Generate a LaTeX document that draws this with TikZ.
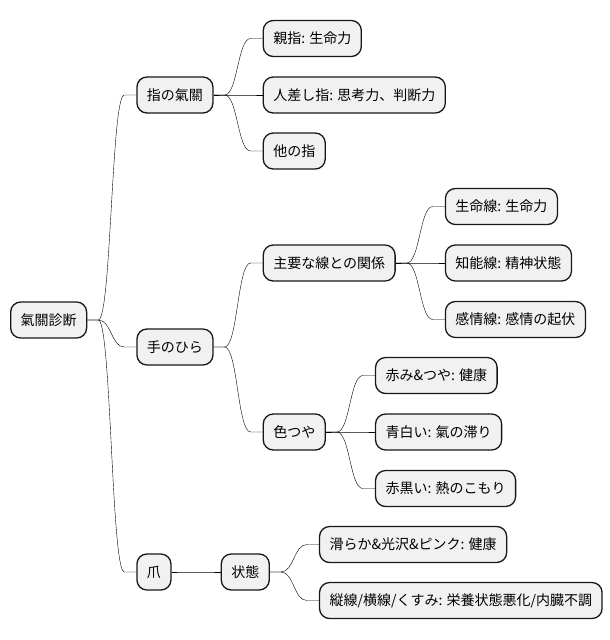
\documentclass[tikz,border=0pt]{standalone}
\usepackage{fontspec}
\setmainfont{Noto Sans CJK JP}
\usepackage{xcolor}
\usetikzlibrary{positioning}
\definecolor{boxfill}{HTML}{F1F1F1}
\definecolor{boxline}{HTML}{181818}

\begin{document}
\begin{tikzpicture}[
    x=1pt, y=1pt,
    node distance=49pt,
    every node/.style={draw=boxline, fill=boxfill, line width=1.3pt, rounded corners=10pt,
        minimum height=36pt, inner xsep=10pt, font=\fontsize{14pt}{16pt}\selectfont},
    branch/.style={draw=boxline, line width=1pt,
        to path={-- ++(11pt,0) .. controls +(13pt,0) and +(-13pt,0) .. ([xshift=-12pt]\tikztotarget) -- (\tikztotarget)}}
]
\useasboundingbox (0,0) rectangle (610,-640);

\node (root) [anchor=west] at (10,-320) {氣關診断};

\node (fingers) [right=of root, yshift=225pt] {指の氣關};
\node (thumb) [right=of fingers, yshift=56.5pt] {親指: 生命力};
\node (index) [right=of fingers] {人差し指: 思考力、判断力};
\node (others) [right=of fingers, yshift=-56pt] {他の指};

\node (palm) [right=of root, yshift=-27pt] {手のひら};
\node (lines) [right=of palm, yshift=84pt] {主要な線との関係};
\node (lifeline) [right=of lines, yshift=56.5pt] {生命線: 生命力};
\node (headline) [right=of lines] {知能線: 精神状態};
\node (heartline) [right=of lines, yshift=-56.5pt] {感情線: 感情の起伏};
\node (colour) [right=of palm, yshift=-85pt] {色つや};
\node (ruddy) [right=of colour, yshift=56.5pt] {赤み\&つや: 健康};
\node (pale) [right=of colour] {青白い: 氣の滞り};
\node (dark) [right=of colour, yshift=-56.5pt] {赤黒い: 熱のこもり};

\node (nail) [right=of root, yshift=-252pt] {爪};
\node (state) [right=of nail] {状態};
\node (smooth) [right=of state, yshift=27.5pt] {滑らか\&光沢\&ピンク: 健康};
\node (ridged) [right=of state, yshift=-28.5pt] {縦線/横線/くすみ: 栄養状態悪化/内臓不調};

\draw (root.east) to[branch] (fingers.west);
\draw (root.east) to[branch] (palm.west);
\draw (root.east) to[branch] (nail.west);
\draw (fingers.east) to[branch] (thumb.west);
\draw (fingers.east) to[branch] (index.west);
\draw (fingers.east) to[branch] (others.west);
\draw (palm.east) to[branch] (lines.west);
\draw (palm.east) to[branch] (colour.west);
\draw (lines.east) to[branch] (lifeline.west);
\draw (lines.east) to[branch] (headline.west);
\draw (lines.east) to[branch] (heartline.west);
\draw (colour.east) to[branch] (ruddy.west);
\draw (colour.east) to[branch] (pale.west);
\draw (colour.east) to[branch] (dark.west);
\draw (nail.east) to[branch] (state.west);
\draw (state.east) to[branch] (smooth.west);
\draw (state.east) to[branch] (ridged.west);
\end{tikzpicture}
\end{document}
